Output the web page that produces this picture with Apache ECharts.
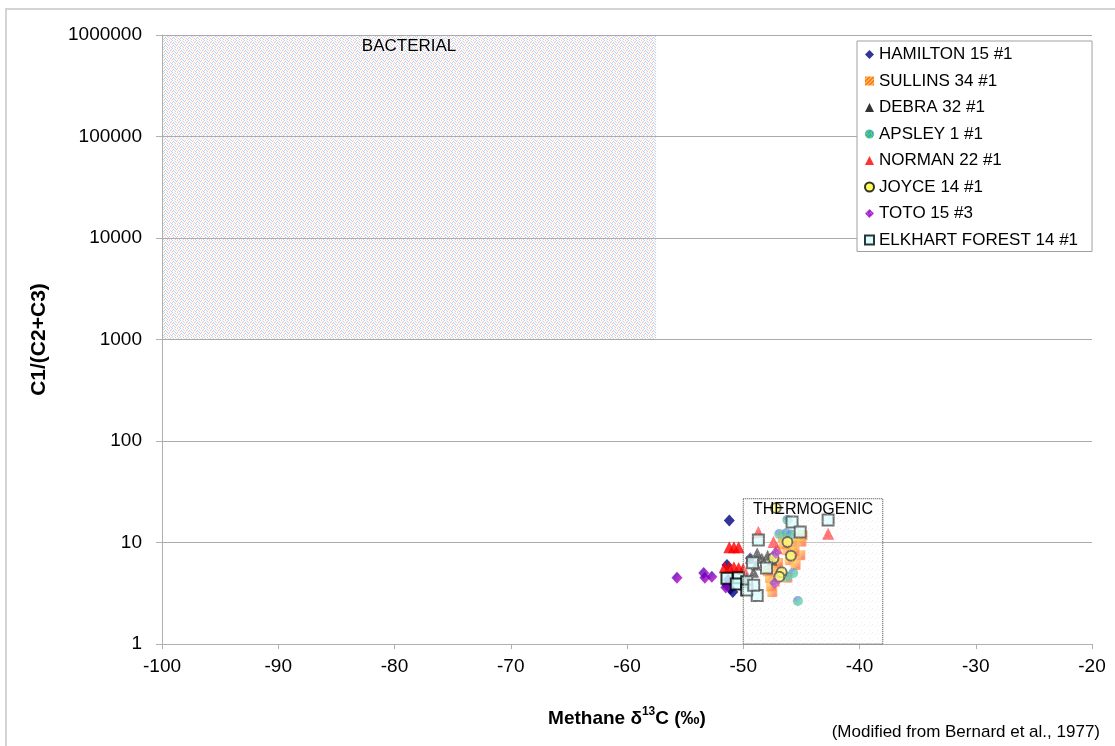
<!DOCTYPE html>
<html>
<head>
<meta charset="utf-8">
<script src="https://cdn.jsdelivr.net/npm/echarts@6/dist/echarts.min.js"></script>
<style>
html,body{margin:0;padding:0;background:#fff;}
#chart{width:1115px;height:746px;}
</style>
</head>
<body>
<div id="chart"></div>
<script>
// ---- Data ----
const seriesNames = ['HAMILTON 15 #1','SULLINS 34 #1','DEBRA 32 #1','APSLEY 1 #1','NORMAN 22 #1','JOYCE 14 #1','TOTO 15 #3','ELKHART FOREST 14 #1'];
const hamilton = [[-51.2,16.5],[-51.4,6.0],[-51.4,3.8],[-50.9,3.25],[-51.1,3.5],[-49.4,7.0]];
const sullins = [[-44.9,11.8],[-45.3,11.0],[-45.8,9.4],[-45.1,7.5],[-46.2,8.4],[-46.6,11.3],[-47.1,5.7],[-47.7,4.5],[-47.3,4.1],[-47.5,3.25],[-46.2,4.5],[-46.0,6.7],[-47.0,6.3],[-46.5,9.6],[-45.5,6.0],[-45.6,8.2],[-46.9,5.0],[-47.6,3.7],[-47.9,5.2],[-45.0,10.2]];
const debra = [[-48.8,7.9],[-47.9,7.5],[-49.4,7.0],[-47.5,6.7],[-49.7,4.5],[-49.1,5.1],[-48.4,7.0],[-48.9,6.0]];
const apsley = [[-45.3,2.65],[-46.2,16.7],[-46.9,12.1],[-46.3,12.3],[-45.9,12.0],[-45.7,5.0],[-46.2,4.6]];
const norman = [[-51.2,9.0],[-50.8,9.0],[-50.4,9.0],[-51.6,5.7],[-51.2,5.7],[-50.8,5.7],[-50.4,5.6],[-50.0,5.5],[-48.7,12.7],[-47.4,10.1],[-47.1,8.8],[-42.7,12.2]];
const joyce = [[-47.2,21.9],[-46.2,10.1],[-45.9,7.4],[-47.4,7.0],[-46.7,5.1],[-46.9,4.6]];
const toto = [[-55.7,4.5],[-53.4,5.0],[-53.3,4.5],[-52.7,4.6],[-51.5,3.6],[-51.3,4.3],[-47.2,7.9],[-47.3,4.0]];
const elkhart = [[-51.4,4.45],[-50.4,4.5],[-50.6,3.9],[-48.7,10.6],[-48.8,3.0],[-45.8,15.9],[-45.1,12.7],[-42.7,16.7],[-49.2,6.3],[-48.0,5.6],[-49.7,4.1],[-49.7,3.4],[-49.1,3.8]];

// zones: [xFrom, xTo, yFrom, yTo]
const bacterialZone = [-100, -57.5, 1000, 1000000];
const thermogenicZone = [-50, -38, 1, 27];

const xRange = [-100, -20];
const xStep = 10;
const yRange = [1, 1000000];
const yTickLabels = ['1','10','100','1000','10000','100000','1000000'];

// ---- Styling helpers ----
function makePattern(bg, dots, size) {
  const c = document.createElement('canvas');
  c.width = size; c.height = size;
  const ctx = c.getContext('2d');
  ctx.fillStyle = bg; ctx.fillRect(0, 0, size, size);
  dots.forEach(d => { ctx.fillStyle = d[2]; ctx.fillRect(d[0], d[1], 1, 1); });
  return { image: c, repeat: 'repeat' };
}
const cP = '#f4b8e2', cC = '#aadaf4', cY = '#f2eea0', cG = '#bce8c2', cL = '#d0c4f4', cO = '#f4ccb0';
const bactPattern = makePattern('#fbfafc', [
  [1,0,cP],[4,0,cC],[6,0,cY],
  [3,1,cG],[7,1,cL],
  [0,2,cY],[2,2,cL],[5,2,cP],
  [4,3,cO],[6,3,cC],
  [1,4,cL],[3,4,cY],[7,4,cC],
  [0,5,cP],[5,5,cL],
  [2,6,cP],[4,6,cC],[6,6,cG],
  [1,7,cY],[3,7,cL],[7,7,cP]
], 8);
const thermoPattern = makePattern('rgba(255,255,255,0.32)', [
  [0,0,'rgba(255,190,230,0.4)'],[3,2,'rgba(180,225,255,0.4)'],[1,4,'rgba(255,245,160,0.4)'],[5,6,'rgba(210,190,250,0.4)'],[6,1,'rgba(255,200,230,0.4)']
], 8);
const sullinsPattern = makePattern('#ff8000', [[0,0,'#ff2000'],[1,1,'#ffd000'],[2,0,'#ffc000'],[3,1,'#ff2000'],[0,2,'#ffc000'],[2,2,'#ff3000'],[1,3,'#ff3000'],[3,3,'#ffd000']], 4);
const apsleyPattern = makePattern('#20b050', [[0,0,'#00c0c0'],[1,1,'#2050ff'],[2,0,'#40e040'],[3,1,'#00c0c0'],[0,2,'#2050ff'],[2,2,'#00c0c0'],[1,3,'#40e040'],[3,3,'#2050ff']], 4);
const totoPattern = makePattern('#8000c0', [[0,0,'#d000d0'],[1,1,'#5000b0'],[2,0,'#ff20c0'],[3,1,'#d000d0'],[0,2,'#5000b0'],[2,2,'#d000d0'],[1,3,'#ff20c0'],[3,3,'#5000b0']], 4);

const FONT = '"Liberation Sans", Arial, sans-serif';

function zoneRenderer(label, fill, stroke, fontSize) {
  return function (params, api) {
    const p1 = api.coord([api.value(0), api.value(3)]);
    const p2 = api.coord([api.value(1), api.value(2)]);
    const children = [{
      type: 'rect',
      shape: { x: p1[0], y: p1[1], width: p2[0] - p1[0], height: p2[1] - p1[1] },
      style: stroke ? { fill: fill, stroke: stroke, lineWidth: 1, lineDash: [1, 1] } : { fill: fill }
    }, {
      type: 'text',
      style: {
        text: label, x: (p1[0] + p2[0]) / 2, y: p1[1] + 3,
        align: 'center', verticalAlign: 'top', fill: '#000',
        font: fontSize + 'px ' + FONT
      }
    }];
    return { type: 'group', children: children };
  };
}

function scatter(name, data, symbol, size, itemStyle) {
  return { name: name, type: 'scatter', data: data, symbol: symbol, symbolSize: size, itemStyle: itemStyle, z: 3 };
}

const chart = echarts.init(document.getElementById('chart'), null, { renderer: 'canvas' });
chart.setOption({
  animation: false,
  backgroundColor: '#fff',
  textStyle: { fontFamily: FONT },
  grid: { left: 162, right: 23, top: 35, bottom: 102 },
  legend: {
    data: seriesNames,
    orient: 'vertical',
    left: 857, top: 41,
    padding: [5, 14, 3, 7],
    itemGap: 9.5,
    itemWidth: 9, itemHeight: 9,
    borderColor: '#a0a0a0', borderWidth: 1,
    backgroundColor: '#fff',
    textStyle: { fontSize: 17, color: '#000', lineHeight: 17, fontFamily: FONT }
  },
  xAxis: {
    type: 'value', min: xRange[0], max: xRange[1], interval: xStep,
    axisLine: { show: true, lineStyle: { color: '#b0b0b0', width: 1 } },
    axisTick: { show: true, length: 5, lineStyle: { color: '#b0b0b0' } },
    axisLabel: { fontSize: 19, color: '#000', margin: 13, fontFamily: FONT },
    splitLine: { show: false },
    name: '{b|Methane δ}{s|13}{b|C (‰)}',
    nameLocation: 'middle', nameGap: 62,
    nameTextStyle: {
      rich: {
        b: { fontSize: 19, fontWeight: 'bold', color: '#000', fontFamily: FONT, verticalAlign: 'bottom', lineHeight: 22 },
        s: { fontSize: 12, fontWeight: 'bold', color: '#000', fontFamily: FONT, verticalAlign: 'top', lineHeight: 22, padding: [0, 0, 8, 0] }
      }
    }
  },
  yAxis: {
    type: 'log', logBase: 10, min: yRange[0], max: yRange[1],
    axisLine: { show: true, lineStyle: { color: '#b0b0b0', width: 1 } },
    axisTick: { show: true, length: 6, lineStyle: { color: '#b0b0b0' } },
    axisLabel: {
      fontSize: 19, color: '#000', margin: 20, fontFamily: FONT,
      formatter: v => yTickLabels[Math.round(Math.log10(v))]
    },
    splitLine: { show: true, lineStyle: { color: '#ababab', width: 1 } },
    minorTick: { show: false }, minorSplitLine: { show: false },
    name: 'C1/(C2+C3)', nameLocation: 'middle', nameGap: 112,
    nameTextStyle: { fontSize: 21, fontWeight: 'bold', color: '#000', fontFamily: FONT }
  },
  series: [
    {
      name: 'bacterialZone', type: 'custom', silent: true, z: -1,
      data: [bacterialZone], encode: { x: [0, 1], y: [2, 3] },
      renderItem: zoneRenderer('BACTERIAL', bactPattern, null, 17)
    },
    scatter(seriesNames[0], hamilton, 'diamond', [11, 12], { color: '#000080' }),
    scatter(seriesNames[1], sullins, 'rect', 10, { color: sullinsPattern }),
    scatter(seriesNames[2], debra, 'triangle', 11, { color: '#000000' }),
    scatter(seriesNames[3], apsley, 'circle', 10, { color: apsleyPattern }),
    scatter(seriesNames[4], norman, 'triangle', 12, { color: '#ff0000' }),
    scatter(seriesNames[5], joyce, 'circle', 10, { color: '#ffff33', borderColor: '#000', borderWidth: 2 }),
    scatter(seriesNames[6], toto, 'diamond', [11, 12], { color: totoPattern }),
    scatter(seriesNames[7], elkhart, 'rect', 11, { color: '#ccffff', borderColor: '#000', borderWidth: 2 }),
    {
      name: 'thermogenicZone', type: 'custom', silent: true, z: 10,
      data: [thermogenicZone], encode: { x: [0, 1], y: [2, 3] },
      renderItem: zoneRenderer('THERMOGENIC', thermoPattern, '#404040', 16)
    }
  ],
  graphic: [
    {
      type: 'rect', silent: true, z: -10,
      shape: { x: 6, y: 9, width: 1130, height: 760 },
      style: { fill: 'none', stroke: '#d4d4d4', lineWidth: 2 }
    },
    {
      type: 'text', right: 15, top: 724, silent: true,
      style: { text: '(Modified from Bernard et al., 1977)', fill: '#000', font: '17px ' + FONT }
    }
  ]
});
</script>
</body>
</html>
